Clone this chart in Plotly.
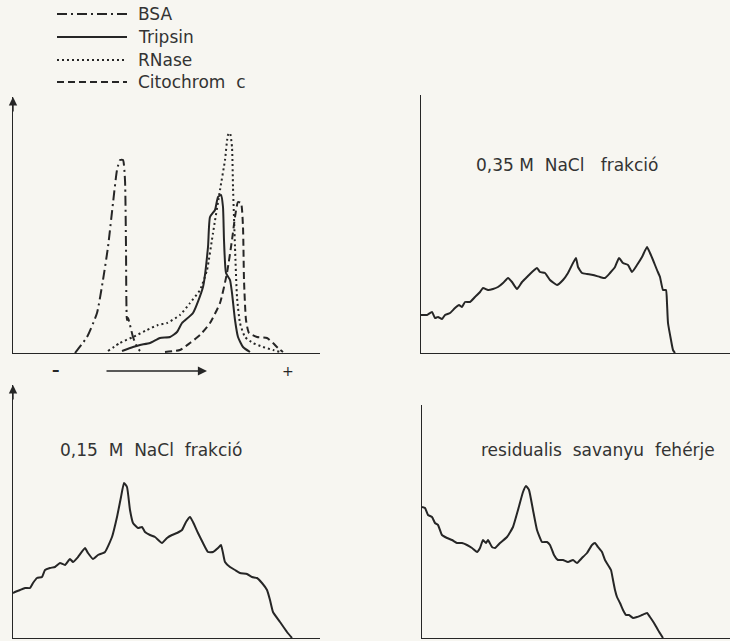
import plotly.graph_objects as go

W, H = 730, 641

# ---------------- data ----------------
# Panel A: reference proteins (position, absorbance)
bsa_x = [62, 74, 84, 90, 95, 100, 104, 107, 110, 112, 113, 114, 115, 117, 120, 124, 127]
bsa_y = [0, 16, 40, 73, 106, 150, 183, 193, 193, 173, 106, 33, 35, 28, 16, 6, 2]

tripsin_x = [109, 120, 127, 137, 147, 157, 164, 169, 180, 190, 195, 197, 202, 205, 208, 210,
             211, 213, 217, 219, 222, 225, 230, 237]
tripsin_y = [2, 6, 8, 10, 15, 16, 21, 30, 40, 66, 106, 136, 143, 156, 158, 146,
             113, 80, 73, 60, 33, 16, 6, 1]

rnase_x = [95, 107, 120, 134, 145, 154, 167, 177, 187, 194, 200, 207, 212, 215, 217, 219,
           220, 222, 224, 227, 232, 240, 250, 260, 267]
rnase_y = [2, 10, 16, 23, 28, 30, 38, 50, 63, 83, 120, 163, 193, 218, 220, 206,
           166, 106, 56, 30, 16, 10, 6, 3, 1]

cito_x = [152, 167, 177, 187, 197, 207, 214, 219, 222, 225, 228, 230, 231, 233, 236, 244,
          254, 260, 265, 270]
cito_y = [1, 3, 10, 18, 30, 50, 80, 113, 136, 151, 150, 126, 73, 33, 20, 16,
          15, 10, 5, 1]

# Panel B: 0,35 M NaCl fraction
f035_x = [0, 6, 11, 14, 17, 21, 24, 29, 34, 38, 41, 44, 49, 54, 59, 62, 67, 72, 77, 82,
          87, 91, 96, 101, 106, 111, 116, 119, 124, 129, 136, 142, 147, 152, 155, 157, 161,
          166, 172, 179, 184, 189, 194, 198, 202, 207, 211, 216, 221, 226, 229, 232, 236,
          239, 242, 245, 246, 247, 250, 252, 254]
f035_y = [38, 38, 41, 35, 36, 34, 38, 40, 45, 48, 46, 51, 51, 56, 61, 65, 63, 64, 66, 70,
          75, 71, 64, 71, 76, 81, 85, 81, 80, 73, 68, 73, 80, 90, 95, 86, 80,
          79, 78, 76, 75, 80, 86, 95, 90, 88, 81, 88, 96, 106, 100, 93, 83,
          76, 63, 63, 50, 30, 13, 3, 0]

# Panel C: 0,15 M NaCl fraction
f015_x = [0, 2, 7, 12, 17, 20, 24, 29, 32, 37, 42, 47, 52, 57, 60, 65, 72, 75, 80, 85, 92,
          99, 104, 108, 111, 114, 117, 120, 125, 129, 132, 137, 142, 149, 154, 159, 164,
          169, 173, 177, 180, 185, 190, 195, 200, 205, 208, 210, 212, 217, 222, 227, 234,
          239, 244, 249, 254, 257, 260, 267, 274, 279]
f015_y = [45, 46, 48, 50, 50, 55, 60, 61, 68, 70, 71, 75, 73, 79, 76, 81, 90, 85, 79, 83, 86,
          101, 121, 141, 155, 151, 128, 115, 110, 111, 106, 103, 101, 95, 100, 103, 105,
          108, 116, 121, 116, 105, 95, 86, 86, 90, 93, 85, 76, 71, 68, 65, 64,
          61, 60, 55, 48, 38, 26, 16, 6, 0]

# Panel D: residual acidic protein
res_x = [0, 3, 6, 10, 13, 16, 20, 25, 30, 35, 40, 45, 50, 55, 58, 61, 64, 66, 70, 73,
         78, 85, 91, 96, 101, 104, 107, 111, 115, 120, 125, 128, 132, 136, 141, 146, 151,
         155, 160, 165, 170, 173, 176, 180, 183, 186, 189, 191, 193, 195, 198, 201, 204,
         207, 211, 215, 220, 225, 228, 232, 236, 241]
res_y = [131, 130, 123, 121, 115, 113, 103, 100, 98, 95, 95, 93, 90, 86, 90, 98, 95, 98, 91, 90,
         95, 101, 111, 128, 146, 152, 148, 128, 108, 96, 96, 93, 83, 78, 78, 76, 78,
         75, 80, 85, 93, 95, 91, 86, 78, 73, 68, 58, 48, 41, 35, 28, 23,
         23, 20, 21, 23, 25, 21, 15, 8, 0]

legend_names = ["BSA", "Tripsin", "RNase", "Citochrom\u00a0\u00a0c"]
panel_titles = ["0,35\u00a0M\u00a0\u00a0NaCl\u00a0\u00a0\u00a0frakció",
                "0,15\u00a0\u00a0M\u00a0\u00a0NaCl\u00a0\u00a0frakció",
                "residualis\u00a0\u00a0savanyu\u00a0\u00a0fehérje"]

# ---------------- styling ----------------
INK = "#262626"
TXT = "#333333"
BG = "#f7f6f1"
FONT = "DejaVu Sans"
dashes = ["10px,4px,2px,4px", "solid", "2px,3px", "7px,4px"]


def px(x):
    return x / W


def py(y):
    return 1 - y / H


fig = go.Figure()

# panel geometry in pixels: (left, right, bottom, top)
panels = {
    1: (13, 320, 353, 97),
    2: (421, 730, 353, 95),
    3: (13, 320, 638, 385),
    4: (422, 730, 638, 405),
}

for i, (l, r, b, t) in panels.items():
    sfx = "" if i == 1 else str(i)
    fig.layout["xaxis" + sfx] = dict(
        domain=[px(l), px(r)], range=[0, r - l], anchor="y" + sfx,
        showline=True, linecolor=INK, linewidth=1.4, showgrid=False,
        zeroline=False, showticklabels=False, ticks="", fixedrange=True)
    fig.layout["yaxis" + sfx] = dict(
        domain=[py(b), py(t)], range=[0, b - t], anchor="x" + sfx,
        showline=True, linecolor=INK, linewidth=1.4, showgrid=False,
        zeroline=False, showticklabels=False, ticks="", fixedrange=True)

ref_series = [(bsa_x, bsa_y), (tripsin_x, tripsin_y), (rnase_x, rnase_y), (cito_x, cito_y)]
for (xs, ys), name, d in zip(ref_series, legend_names, dashes):
    fig.add_trace(go.Scatter(x=xs, y=ys, mode="lines", name=name, showlegend=False,
                             line=dict(color=INK, width=2, dash=d, shape="spline",
                                       smoothing=0.5),
                             xaxis="x", yaxis="y"))

for xs, ys, ax in [(f035_x, f035_y, "2"), (f015_x, f015_y, "3"), (res_x, res_y, "4")]:
    fig.add_trace(go.Scatter(x=xs, y=ys, mode="lines", showlegend=False,
                             line=dict(color=INK, width=2, shape="spline", smoothing=0.4),
                             xaxis="x" + ax, yaxis="y" + ax))

shapes = []
annotations = []

# hand-drawn style legend
leg_y = [14, 37, 60, 82]
for name, d, yy in zip(legend_names, dashes, leg_y):
    shapes.append(dict(type="line", xref="paper", yref="paper",
                       x0=px(57), x1=px(127), y0=py(yy), y1=py(yy),
                       line=dict(color=INK, width=2, dash=d)))
    annotations.append(dict(text=name, xref="paper", yref="paper", x=px(136), y=py(yy),
                            xanchor="left", yanchor="middle", showarrow=False,
                            font=dict(family=FONT, size=17, color=TXT)))

# arrows on left y-axes
for (l, r, b, t) in (panels[1], panels[3]):
    annotations.append(dict(text="", xref="paper", yref="paper", x=px(l), y=py(t),
                            ax=0, ay=16, axref="pixel", ayref="pixel", showarrow=True,
                            arrowhead=2, arrowsize=1.2, arrowwidth=1.4, arrowcolor=INK))

# migration direction below panel A
annotations.append(dict(text="", xref="paper", yref="paper", x=px(207), y=py(371),
                        ax=-102, ay=0, showarrow=True, arrowhead=2, arrowsize=1.3,
                        arrowwidth=1.4, arrowcolor=INK))
annotations.append(dict(text="<b>\u2013</b>", xref="paper", yref="paper", x=px(50), y=py(370),
                        showarrow=False, font=dict(family=FONT, size=15, color=INK)))
annotations.append(dict(text="+", xref="paper", yref="paper", x=px(288), y=py(371),
                        showarrow=False, font=dict(family=FONT, size=14, color=INK)))

# panel titles
for txt, (cx, cy) in zip(panel_titles, [(567, 165), (151, 450), (598, 450)]):
    annotations.append(dict(text=txt, xref="paper", yref="paper", x=px(cx), y=py(cy),
                            xanchor="center", yanchor="middle", showarrow=False,
                            font=dict(family=FONT, size=17, color=TXT)))

fig.update_layout(width=W, height=H, margin=dict(l=0, r=0, t=0, b=0),
                  paper_bgcolor=BG, plot_bgcolor=BG, showlegend=False,
                  shapes=shapes, annotations=annotations)

fig.write_html("out.html", config={"displayModeBar": False},
               post_script="document.body.style.margin='0';"
                           "document.body.style.overflow='hidden';")
